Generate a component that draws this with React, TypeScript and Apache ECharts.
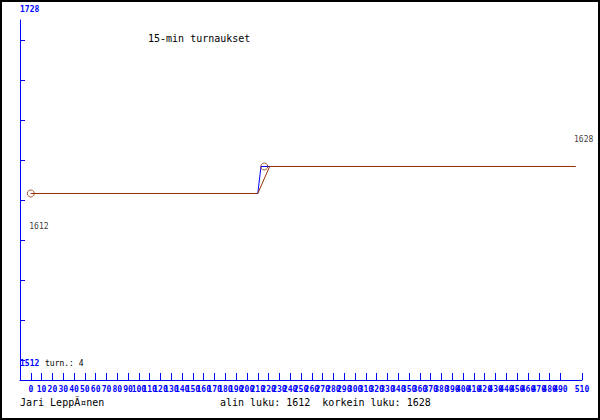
import React, { useEffect, useRef } from "react";
import * as echarts from "echarts";

// Data (x = minutes, y = value)
const blueSeries: [number, number][] = [
  [0, 1612],
  [210, 1612],
  [213, 1628],
  [504, 1628],
];
const brownSeries: [number, number][] = [
  [0, 1612],
  [210, 1612],
  [221, 1628],
  [504, 1628],
];
const markerPoints: [number, number][] = [
  [0, 1612],
  [216, 1628],
];
const lowLabelPoint: [number, number] = [0, 1612];
const highLabelPoint: [number, number] = [504, 1628];
const yEndLabels = ["1728", "1512"];
const titleText = "15-min turnaukset";
const turnText = "turn.: 4";
const authorText = "Jari LeppÃ¤nen";
const minValue = 1612;
const maxValue = 1628;

const BLUE = "#0000ff";
const BROWN = "#993300";
const MONO = "'DejaVu Sans Mono', 'Liberation Mono', monospace";

export default function App() {
  const ref = useRef<HTMLDivElement>(null);
  useEffect(() => {
    document.body.style.margin = "0";
    if (!ref.current) return;
    const chart = echarts.init(ref.current, undefined, { renderer: "svg" });
    chart.setOption({
      animation: false,
      backgroundColor: "#ffffff",
      grid: [
        { left: 20, right: 18, top: 20, bottom: 40 },
        { left: 20, right: 18, top: 40, bottom: 60 },
      ],
      xAxis: [
        {
          type: "value",
          gridIndex: 0,
          min: -10,
          max: 510,
          interval: 10,
          axisLine: { show: true, onZero: false, lineStyle: { color: BLUE, width: 1 } },
          axisTick: { show: true, inside: true, length: 7, lineStyle: { color: BLUE } },
          axisLabel: {
            show: true,
            interval: 0,
            hideOverlap: false,
            showMinLabel: true,
            showMaxLabel: true,
            color: BLUE,
            fontSize: 8,
            fontWeight: "bold",
            fontFamily: MONO,
            margin: 5,
            formatter: (v: number) => (v < 0 ? "" : String(v)),
          },
          splitLine: { show: false },
        },
        {
          type: "value",
          gridIndex: 1,
          min: 0,
          max: 1,
          show: false,
        },
      ],
      yAxis: [
        {
          type: "value",
          gridIndex: 0,
          min: 1512,
          max: 1728,
          axisLine: { show: true, onZero: false, lineStyle: { color: BLUE, width: 1 } },
          axisTick: { show: false },
          axisLabel: { show: false },
          splitLine: { show: false },
        },
        {
          type: "value",
          gridIndex: 0,
          min: 1501.48,
          max: 1714.81,
          show: false,
          splitLine: { show: false },
        },
        {
          type: "value",
          gridIndex: 1,
          min: 0,
          max: 8,
          interval: 1,
          axisLine: { show: false, onZero: false },
          axisTick: { show: true, inside: true, length: 5, lineStyle: { color: BLUE } },
          axisLabel: { show: false },
          splitLine: { show: false },
        },
      ],
      series: [
        {
          type: "line",
          yAxisIndex: 1,
          data: blueSeries,
          symbol: "none",
          lineStyle: { color: BLUE, width: 1 },
        },
        {
          type: "line",
          yAxisIndex: 1,
          data: brownSeries,
          symbol: "none",
          lineStyle: { color: BROWN, width: 1 },
        },
        {
          type: "scatter",
          yAxisIndex: 1,
          z: 5,
          data: markerPoints,
          symbol: "circle",
          symbolSize: 7,
          itemStyle: { color: "transparent", borderColor: BROWN, borderWidth: 1 },
        },
        {
          type: "scatter",
          yAxisIndex: 1,
          symbolSize: 1,
          itemStyle: { color: "transparent" },
          data: [
            {
              value: lowLabelPoint,
              label: {
                show: true,
                position: [-1, 30],
                color: "#000",
                formatter: String(lowLabelPoint[1]),
              },
            },
            {
              value: highLabelPoint,
              label: {
                show: true,
                position: [-1, -30],
                color: "#000",
                formatter: String(highLabelPoint[1]),
              },
            },
          ],
          label: {
            color: "#000",
            fontSize: 8,
            fontFamily: MONO,
          },
        },
      ],
      graphic: [
        {
          type: "rect",
          shape: { x: 1, y: 1, width: 598, height: 418 },
          style: { fill: "none", stroke: "#000", lineWidth: 2 },
          silent: true,
        },
        {
          type: "text",
          x: 20,
          y: 9,
          style: {
            text: yEndLabels[0],
            fill: BLUE,
            font: `bold 8px ${MONO}`,
            textVerticalAlign: "middle",
          },
        },
        {
          type: "text",
          x: 20,
          y: 363,
          style: {
            text: yEndLabels[1],
            fill: BLUE,
            font: `bold 8px ${MONO}`,
            textVerticalAlign: "middle",
          },
        },
        {
          type: "text",
          x: 45,
          y: 363,
          style: {
            text: turnText,
            fill: "#000",
            font: `8px ${MONO}`,
            textVerticalAlign: "middle",
          },
        },
        {
          type: "text",
          x: 148,
          y: 38,
          style: {
            text: titleText,
            fill: "#000",
            font: `10px ${MONO}`,
            textVerticalAlign: "middle",
          },
        },
        {
          type: "text",
          x: 20,
          y: 402,
          style: {
            text: authorText,
            fill: "#000",
            font: `10px ${MONO}`,
            textVerticalAlign: "middle",
          },
        },
        {
          type: "text",
          x: 220,
          y: 402,
          style: {
            text: `alin luku: ${minValue}  korkein luku: ${maxValue}`,
            fill: "#000",
            font: `10px ${MONO}`,
            textVerticalAlign: "middle",
          },
        },
      ],
    });
    return () => chart.dispose();
  }, []);
  return <div ref={ref} style={{ width: 600, height: 420 }} />;
}
